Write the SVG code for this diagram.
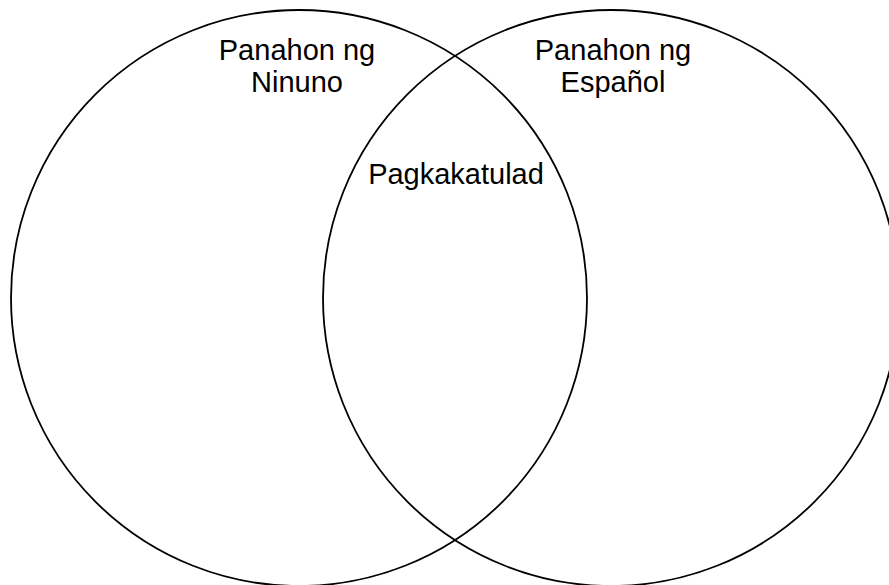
<svg xmlns="http://www.w3.org/2000/svg" width="889" height="585" viewBox="0 0 889 585">
<style>
.c{fill:none;stroke:#000;stroke-width:1.8}
.t{font-family:"Liberation Sans",Arial,sans-serif;font-size:29px;fill:#000;text-anchor:middle}
</style>
<rect width="889" height="585" fill="#fff"/>
<g id="left-circle"><circle class="c" cx="299" cy="298" r="288"/>
<text class="t" x="297" y="60">Panahon ng</text>
<text class="t" x="297" y="92">Ninuno</text></g>
<g id="right-circle"><circle class="c" cx="611" cy="298" r="288"/>
<text class="t" x="613" y="60">Panahon ng</text>
<text class="t" x="613" y="92">Español</text></g>
<g id="overlap"><text class="t" x="456" y="184">Pagkakatulad</text></g>
<g id="connectors"></g>
</svg>
